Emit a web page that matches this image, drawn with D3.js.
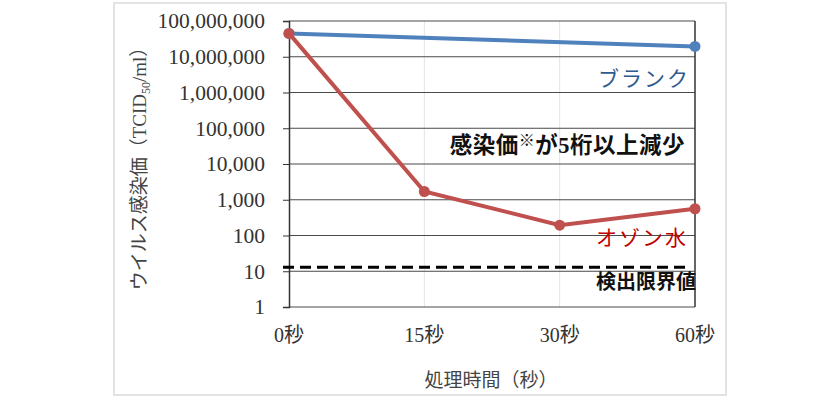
<!DOCTYPE html>
<html>
<head>
<meta charset="utf-8">
<script src="https://cdn.jsdelivr.net/npm/d3@7"></script>
<style>
  body { margin: 0; background: #fff; }
  text { font-family: "Liberation Serif", "Noto Sans CJK JP", serif; }
</style>
</head>
<body>
<div id="chart"></div>
<script>
// categories on the x axis
const times = ["0秒", "15秒", "30秒", "60秒"];
// blank: measured only at start and end
const blankTimes = ["0秒", "60秒"];
const blankValues = [45000000, 19500000];
// ozone water
const ozoneValues = [45000000, 1700, 195, 560];
const detectionLimit = 13;
const yTicks = [1, 10, 100, 1000, 10000, 100000, 1000000, 10000000, 100000000];

const W = 840, H = 397;
const margin = { top: 21, right: 145, bottom: 90, left: 289 };

const svg = d3.select("#chart").append("svg")
  .attr("width", W)
  .attr("height", H);

// outer frame of the picture
svg.append("rect")
  .attr("x", 114).attr("y", 3)
  .attr("width", 612).attr("height", 392)
  .attr("fill", "none")
  .attr("stroke", "#e3e3e3")
  .attr("stroke-width", 2);

const x = d3.scalePoint().domain(times).range([margin.left, W - margin.right]);
const y = d3.scaleLog().domain([1, 1e8]).range([H - margin.bottom, margin.top]);

// light vertical gridlines
svg.append("g").selectAll("line")
  .data(times.slice(1, -1))
  .join("line")
  .attr("x1", d => x(d)).attr("x2", d => x(d))
  .attr("y1", y(1e8)).attr("y2", y(1))
  .attr("stroke", "#e4e4e4").attr("stroke-width", 1);

// horizontal gridlines
svg.append("g").selectAll("line")
  .data(yTicks)
  .join("line")
  .attr("x1", x(times[0])).attr("x2", x(times[times.length - 1]))
  .attr("y1", d => y(d)).attr("y2", d => y(d))
  .attr("stroke", "#4a4a4a").attr("stroke-width", 1);

// y axis with ticks pointing left
const yAxis = svg.append("g")
  .attr("transform", `translate(${x(times[0])},0)`)
  .call(d3.axisLeft(y).tickValues(yTicks).tickFormat(d3.format(",")).tickSize(6).tickPadding(18));
yAxis.select(".domain").attr("stroke", "#333").attr("stroke-width", 1.5);
yAxis.selectAll(".tick line").attr("stroke", "#333");
yAxis.selectAll("text")
  .attr("font-size", 21.5)
  .attr("fill", "#333")
  .style("font-family", '"Liberation Serif", serif');

// right border
svg.append("line")
  .attr("x1", x(times[times.length - 1])).attr("x2", x(times[times.length - 1]))
  .attr("y1", y(1e8)).attr("y2", y(1))
  .attr("stroke", "#333").attr("stroke-width", 1.5);

// x tick labels
svg.append("g").selectAll("text")
  .data(times)
  .join("text")
  .attr("x", d => x(d))
  .attr("y", 342)
  .attr("text-anchor", "middle")
  .attr("font-size", 20)
  .attr("fill", "#333")
  .text(d => d);

// detection limit
svg.append("line")
  .attr("x1", x(times[0]) - 6).attr("x2", x(times[times.length - 1]) - 8)
  .attr("y1", y(detectionLimit)).attr("y2", y(detectionLimit))
  .attr("stroke", "#000")
  .attr("stroke-width", 3)
  .attr("stroke-dasharray", "11,6");

const line = d3.line().x(d => x(d.t)).y(d => y(d.v));

// blank series
const blank = blankTimes.map((t, i) => ({ t, v: blankValues[i] }));
svg.append("path")
  .datum(blank)
  .attr("d", line)
  .attr("fill", "none")
  .attr("stroke", "#4f81bd")
  .attr("stroke-width", 4);
svg.append("g").selectAll("circle")
  .data(blank)
  .join("circle")
  .attr("cx", d => x(d.t)).attr("cy", d => y(d.v))
  .attr("r", 5.5)
  .attr("fill", "#4f81bd");

// ozone water series
const ozone = times.map((t, i) => ({ t, v: ozoneValues[i] }));
svg.append("path")
  .datum(ozone)
  .attr("d", line)
  .attr("fill", "none")
  .attr("stroke", "#c0504d")
  .attr("stroke-width", 4);
svg.append("g").selectAll("circle")
  .data(ozone)
  .join("circle")
  .attr("cx", d => x(d.t)).attr("cy", d => y(d.v))
  .attr("r", 5.5)
  .attr("fill", "#c0504d");

// annotations
const right = x(times[times.length - 1]);
svg.append("text")
  .attr("x", right - 5).attr("y", 86)
  .attr("text-anchor", "end")
  .attr("font-size", 21)
  .attr("letter-spacing", 2)
  .attr("fill", "#2e5b8e")
  .text("ブランク");

const note = svg.append("text")
  .attr("x", right - 10).attr("y", 153)
  .attr("text-anchor", "end")
  .attr("font-size", 22.5)
  .attr("font-weight", "bold")
  .attr("letter-spacing", 0.5)
  .attr("fill", "#111");
note.append("tspan").text("感染価");
note.append("tspan").attr("font-size", 16).attr("dy", -7).text("※");
note.append("tspan").attr("dy", 7).text("が5桁以上減少");

svg.append("text")
  .attr("x", right - 7).attr("y", 245)
  .attr("text-anchor", "end")
  .attr("font-size", 21)
  .attr("letter-spacing", 2)
  .attr("fill", "#c00000")
  .text("オゾン水");

svg.append("text")
  .attr("x", right + 1).attr("y", 289)
  .attr("text-anchor", "end")
  .attr("font-size", 20)
  .attr("font-weight", 600)
  .attr("fill", "#111")
  .text("検出限界値");

// axis titles
svg.append("text")
  .attr("x", 491).attr("y", 387)
  .attr("text-anchor", "middle")
  .attr("font-size", 19)
  .attr("fill", "#444")
  .text("処理時間（秒）");

const yt = svg.append("text")
  .attr("transform", "translate(146,164) rotate(-90)")
  .attr("text-anchor", "middle")
  .attr("font-size", 19)
  .attr("fill", "#444");
yt.append("tspan").text("ウイルス感染価（TCID");
yt.append("tspan").attr("font-size", 12).attr("dy", 4).text("50");
yt.append("tspan").attr("dy", -4).text("/ml）");
</script>
</body>
</html>
